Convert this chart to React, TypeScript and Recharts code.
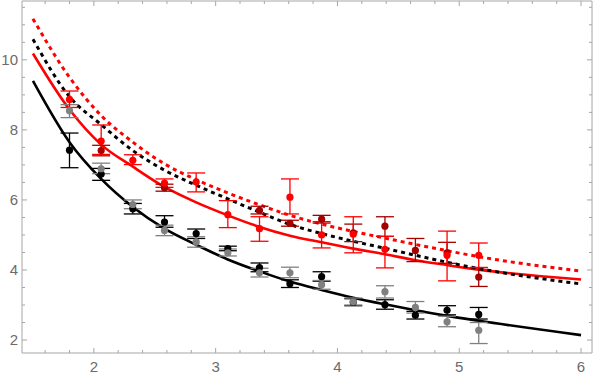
import React from 'react';
import {
  ComposedChart,
  Line,
  Scatter,
  ErrorBar,
  XAxis,
  YAxis,
} from 'recharts';

// Fitted curves, sampled along x
const curveX = [1.5, 1.8, 2.06, 2.32, 2.58, 2.84, 3.1, 3.36, 3.61, 3.87, 4.13, 4.39, 4.64, 4.9, 5.16, 6];
const blackSolid = [9.4, 7.65, 6.6, 5.8, 5.18, 4.72, 4.3, 3.96, 3.67, 3.43, 3.21, 3.02, 2.85, 2.69, 2.55, 2.14];
const redSolid = [10.18, 8.58, 7.58, 6.95, 6.37, 5.93, 5.56, 5.23, 4.98, 4.79, 4.61, 4.45, 4.28, 4.14, 4.01, 3.73];
const blackDashed = [10.59, 8.95, 8.15, 7.41, 6.85, 6.42, 6.03, 5.65, 5.3, 5.04, 4.82, 4.62, 4.42, 4.22, 4.04, 3.6];
const redDashed = [11.17, 9.5, 8.41, 7.65, 7.03, 6.58, 6.2, 5.86, 5.56, 5.31, 5.1, 4.91, 4.73, 4.55, 4.38, 3.97];

// Measured points, err = [minus, plus]
const pointX = [1.8, 2.06, 2.32, 2.58, 2.84, 3.1, 3.36, 3.61, 3.87, 4.13, 4.39, 4.64, 4.9, 5.16];
const blackY = [7.42, 6.74, 5.75, 5.37, 5.04, 4.61, 4.07, 3.61, 3.81, 3.08, 3.01, 2.71, 2.85, 2.73];
const blackErr = [[0.5, 0.49], [0.18, 0.16], [0.15, 0.15], [0.15, 0.18], [0.14, 0.13], [0.06, 0.07], [0.12, 0.13], [0.11, 0.11], [0.13, 0.14], [0.1, 0.1], [0.13, 0.14], [0.11, 0.11], [0.13, 0.13], [0.13, 0.2]];
const grayY = [8.55, 6.89, 5.87, 5.13, 4.8, 4.49, 3.92, 3.92, 3.58, 3.09, 3.38, 2.93, 2.52, 2.28];
const grayErr = [[0.2, 0.17], [0.14, 0.16], [0.12, 0.13], [0.15, 0.15], [0.15, 0.15], [0.09, 0.11], [0.12, 0.13], [0.14, 0.16], [0.13, 0.12], [0.09, 0.11], [0.18, 0.17], [0.16, 0.17], [0.14, 0.16], [0.38, 0.22]];
const darkRedY = [null, 7.41, null, 6.35, null, null, 5.7, 5.33, 5.45, 5.06, 5.25, 4.56, 4.49, 3.8];
const darkRedErr = [null, [0.15, 0.15], null, [0.1, 0.1], null, null, [0.1, 0.12], [0.08, 0.09], [0.11, 0.11], [0.25, 0.25], [0.29, 0.27], [0.32, 0.34], [0.3, 0.3], [0.27, 0.27]];
const redY = [8.87, 7.68, 7.13, 6.48, 6.51, 5.58, 5.18, 6.08, 5.0, 5.02, 4.59, null, 4.42, 4.42];
const redErr = [[0.23, 0.24], [0.38, 0.46], [0.12, 0.16], [0.12, 0.12], [0.28, 0.26], [0.37, 0.4], [0.36, 0.34], [0.48, 0.52], [0.37, 0.38], [0.53, 0.5], [0.53, 0.37], null, [0.73, 0.69], [0.35, 0.35]];

// Frame ticks
const xMajor = [2, 3, 4, 5, 6];
const xMinor = [1.6, 1.8, 2.2, 2.4, 2.6, 2.8, 3.2, 3.4, 3.6, 3.8, 4.2, 4.4, 4.6, 4.8, 5.2, 5.4, 5.6, 5.8];
const yMajor = [2, 4, 6, 8, 10];
const yMinor = [2.5, 3, 3.5, 4.5, 5, 5.5, 6.5, 7, 7.5, 8.5, 9, 9.5, 10.5, 11, 11.5];

const FRAME = '#a6a6a6';
const LABEL = '#6b6b6b';
const FONT = 'Liberation Sans, Arial, sans-serif';

const curve = (ys: number[]) => curveX.map((x, i) => ({ x, y: ys[i] }));
const points = (ys: (number | null)[], errs: (number[] | null)[]) =>
  pointX
    .map((x, i) => ({ x, y: ys[i], err: errs[i] }))
    .filter((p) => p.y != null);

const xTicks = [...xMajor, ...xMinor].sort((a, b) => a - b);
const yTicks = [...yMajor, ...yMinor].sort((a, b) => a - b);

const tick = (side: string) => (props: any) => {
  const { x, y, payload } = props;
  const v = payload.value;
  const major = side === 'bottom' || side === 'top' ? xMajor.includes(v) : yMajor.includes(v);
  const len = major ? 5 : 3;
  if (side === 'bottom') {
    return (
      <g>
        <line x1={x} y1={y} x2={x} y2={y - len} stroke={FRAME} />
        {major && (
          <text x={x} y={y + 19} textAnchor="middle" fill={LABEL} fontSize={15} fontFamily={FONT}>
            {v}
          </text>
        )}
      </g>
    );
  }
  if (side === 'top') {
    return <line x1={x} y1={y} x2={x} y2={y + len} stroke={FRAME} />;
  }
  if (side === 'left') {
    return (
      <g>
        <line x1={x} y1={y} x2={x + len} y2={y} stroke={FRAME} />
        {major && (
          <text x={x - 4} y={y} dy="0.35em" textAnchor="end" fill={LABEL} fontSize={15} fontFamily={FONT}>
            {v}
          </text>
        )}
      </g>
    );
  }
  return <line x1={x} y1={y} x2={x - len} y2={y} stroke={FRAME} />;
};

const dotShape = (color: string) => (p: any) => <circle cx={p.cx} cy={p.cy} r={3.6} fill={color} />;

const series = [
  { name: 'black', color: '#000000', data: points(blackY, blackErr) },
  { name: 'gray', color: '#808080', data: points(grayY, grayErr) },
  { name: 'darkred', color: '#a30000', data: points(darkRedY, darkRedErr) },
  { name: 'red', color: '#ff0000', data: points(redY, redErr) },
];

export default function App() {
  return (
    <div style={{ position: 'absolute', left: 0, top: 0, background: '#fff' }}>
      <ComposedChart width={594} height={377} margin={{ top: 0, right: 0, bottom: 0, left: 0 }}>
        <XAxis
          xAxisId={0}
          dataKey="x"
          type="number"
          domain={[1.41, 6.09]}
          allowDataOverflow
          ticks={xTicks}
          interval={0}
          height={24}
          tickSize={0}
          tickMargin={0}
          tickLine={false}
          axisLine={{ stroke: FRAME }}
          tick={tick('bottom')}
        />
        <XAxis
          xAxisId="top"
          orientation="top"
          dataKey="x"
          type="number"
          domain={[1.41, 6.09]}
          allowDataOverflow
          ticks={xTicks}
          interval={0}
          height={1}
          tickSize={0}
          tickMargin={0}
          tickLine={false}
          axisLine={{ stroke: FRAME }}
          tick={tick('top')}
        />
        <YAxis
          yAxisId={0}
          type="number"
          domain={[1.63, 11.68]}
          allowDataOverflow
          ticks={yTicks}
          interval={0}
          width={22}
          tickSize={0}
          tickMargin={0}
          tickLine={false}
          axisLine={{ stroke: FRAME }}
          tick={tick('left')}
        />
        <YAxis
          yAxisId="right"
          orientation="right"
          type="number"
          domain={[1.63, 11.68]}
          allowDataOverflow
          ticks={yTicks}
          interval={0}
          width={2}
          tickSize={0}
          tickMargin={0}
          tickLine={false}
          axisLine={{ stroke: FRAME }}
          tick={tick('right')}
        />
        <Line data={curve(blackSolid)} dataKey="y" type="monotone" stroke="#000" strokeWidth={2.6} dot={false} isAnimationActive={false} />
        <Line data={curve(redSolid)} dataKey="y" type="monotone" stroke="#ff0000" strokeWidth={2.6} dot={false} isAnimationActive={false} />
        <Line data={curve(blackDashed)} dataKey="y" type="monotone" stroke="#000" strokeWidth={3} strokeDasharray="4 4" dot={false} isAnimationActive={false} />
        <Line data={curve(redDashed)} dataKey="y" type="monotone" stroke="#ff0000" strokeWidth={3} strokeDasharray="4 4" dot={false} isAnimationActive={false} />
        {series.map((s) => (
          <Scatter key={s.name} data={s.data} dataKey="y" fill={s.color} shape={dotShape(s.color)} isAnimationActive={false}>
            <ErrorBar dataKey="err" direction="y" width={9} stroke={s.color} strokeWidth={1.3} isAnimationActive={false} />
          </Scatter>
        ))}
      </ComposedChart>
    </div>
  );
}
